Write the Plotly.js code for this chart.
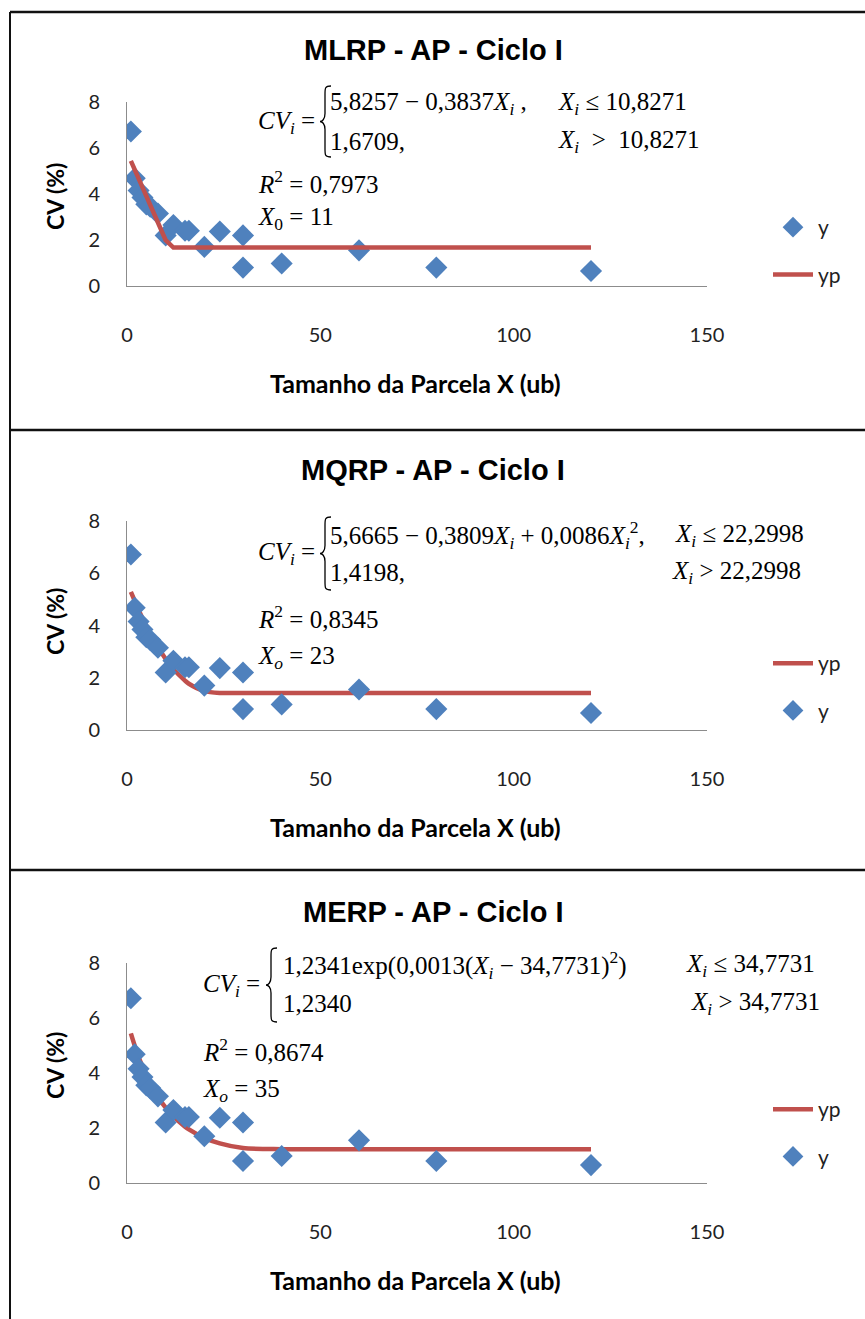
<!DOCTYPE html>
<html>
<head>
<meta charset="utf-8">
<script src="https://cdn.plot.ly/plotly-3.0.1.min.js"></script>
<style>
html,body{margin:0;padding:0;background:#fff;}
#chart{width:865px;height:1319px;}
</style>
</head>
<body>
<div id="chart"></div>
<script>
// ---- data ----
const panelTitles = ["MLRP - AP - Ciclo I", "MQRP - AP - Ciclo I", "MERP - AP - Ciclo I"];
const xSize = [1, 2, 3, 4, 5, 6, 8, 10, 12, 15, 16, 20, 24, 30, 30, 40, 60, 80, 120];
const cvObs = [6.72, 4.68, 4.15, 3.85, 3.55, 3.45, 3.15, 2.2, 2.65, 2.4, 2.4, 1.7, 2.37, 2.2, 0.8, 0.98, 1.55, 0.8, 0.65];
const xFit = [1, 2, 3, 4, 5, 6, 8, 10, 12, 15, 16, 20, 24, 30, 40, 60, 80, 120];
const ypLinear = [5.44, 5.06, 4.68, 4.29, 3.91, 3.52, 2.76, 1.99, 1.67, 1.67, 1.67, 1.67, 1.67, 1.67, 1.67, 1.67, 1.67, 1.67];
const ypQuad = [5.29, 4.94, 4.60, 4.28, 3.98, 3.69, 3.17, 2.72, 2.33, 1.89, 1.77, 1.49, 1.42, 1.42, 1.42, 1.42, 1.42, 1.42];
const ypExp = [5.44, 4.99, 4.58, 4.23, 3.91, 3.62, 3.13, 2.74, 2.42, 2.05, 1.95, 1.64, 1.44, 1.27, 1.23, 1.23, 1.23, 1.23];
const xTicks = [0, 50, 100, 150];
const yTicks = [0, 2, 4, 6, 8];
const xAxisTitle = "Tamanho da Parcela X (ub)";
const yAxisTitle = "CV (%)";

// ---- helpers (pixel -> paper) ----
const W = 865, H = 1319;
const PX = p => p / W;
const PY = p => 1 - p / H;

const BLUE = "#4F81BD", RED = "#C0504D";
const tickFont = {family: "Lato, 'Open Sans', sans-serif", size: 20, color: "#222"};
const eqFont = {family: "'Liberation Serif', 'Times New Roman', serif", size: 25, color: "#000"};

// panel geometry in pixels
const panels = [
  {top: 102, bottom: 286, title: 50, ytitle: 197, xtitle: 383, legendTop: 207, fit: ypLinear, shape: "linear", order: ["y", "yp"]},
  {top: 521, bottom: 730, title: 470, ytitle: 622, xtitle: 827, legendTop: 643, fit: ypQuad, shape: "spline", order: ["yp", "y"]},
  {top: 963, bottom: 1183, title: 912, ytitle: 1066, xtitle: 1280, legendTop: 1089, fit: ypExp, shape: "spline", order: ["yp", "y"]}
];

const traces = [];
const layout = {
  width: W, height: H,
  margin: {l: 0, r: 0, t: 0, b: 0},
  paper_bgcolor: "#fff", plot_bgcolor: "#fff",
  showlegend: true,
  annotations: [], shapes: []
};

panels.forEach((p, i) => {
  const n = i === 0 ? "" : String(i + 1);
  const xa = "x" + n, ya = "y" + n;
  const legName = "legend" + n;
  const scatterTrace = {
    x: xSize, y: cvObs, type: "scatter", mode: "markers", name: "y",
    xaxis: xa, yaxis: ya, legend: legName, legendgroup: "y" + i,
    marker: {symbol: "diamond", size: 17, color: BLUE}
  };
  const fitTrace = {
    x: xFit, y: p.fit, type: "scatter", mode: "lines", name: "yp",
    xaxis: xa, yaxis: ya, legend: legName, legendgroup: "yp" + i,
    line: {color: RED, width: 4.5, shape: p.shape, smoothing: 0.8}
  };
  if (p.order[0] === "y") { traces.push(scatterTrace, fitTrace); }
  else { traces.push(fitTrace, scatterTrace); }

  layout["xaxis" + n] = {
    domain: [PX(127), PX(707)], anchor: ya, range: [0, 150],
    tickvals: xTicks, ticks: "", showgrid: false, zeroline: false,
    showline: true, linecolor: "#8c8c8c", linewidth: 1,
    tickfont: tickFont, ticklabelstandoff: 31, fixedrange: true
  };
  layout["yaxis" + n] = {
    domain: [PY(p.bottom), PY(p.top)], anchor: xa, range: [0, 8],
    tickvals: yTicks, ticks: "", showgrid: false, zeroline: false,
    showline: true, linecolor: "#8c8c8c", linewidth: 1,
    tickfont: tickFont, ticklabelstandoff: 22, fixedrange: true
  };
  layout[legName] = {
    x: PX(768), y: PY(p.legendTop), xanchor: "left", yanchor: "top",
    bgcolor: "rgba(0,0,0,0)", font: {family: "Lato, sans-serif", size: 21, color: "#222"},
    tracegroupgap: 17, itemwidth: 40
  };
  // panel title
  layout.annotations.push({
    text: "<b>" + panelTitles[i] + "</b>", xref: "paper", yref: "paper",
    x: PX(433), y: PY(p.title), xanchor: "center", yanchor: "middle", showarrow: false,
    font: {family: "'Liberation Sans', Arial, sans-serif", size: 29, color: "#000"}
  });
  // axis titles
  layout.annotations.push({
    text: "<b>" + xAxisTitle + "</b>", xref: "paper", yref: "paper",
    x: PX(415), y: PY(p.xtitle), xanchor: "center", yanchor: "middle", showarrow: false,
    font: {family: "Lato, sans-serif", size: 25, color: "#000"}
  });
  layout.annotations.push({
    text: "<b>" + yAxisTitle + "</b>", xref: "paper", yref: "paper", textangle: -90,
    x: PX(55), y: PY(p.ytitle), xanchor: "center", yanchor: "middle", showarrow: false,
    font: {family: "Lato, sans-serif", size: 23, color: "#000"}
  });
});

// ---- equations ----
const Xi = "<i>X</i><sub><i>i</i></sub>";
function eq(text, px, py) {
  layout.annotations.push({text: text, xref: "paper", yref: "paper", x: PX(px), y: PY(py),
    xanchor: "left", yanchor: "middle", showarrow: false, font: eqFont});
}
function brace(xl, yt, yb) {
  const xm = xl + 5, xr = xl + 11, ym = (yt + yb) / 2;
  const pts = (x, y) => PX(x) + "," + PY(y);
  const path = "M" + pts(xr, yt) + " C" + pts(xm, yt) + " " + pts(xm, yt + 2) + " " + pts(xm, yt + 8) +
    " L" + pts(xm, ym - 8) + " C" + pts(xm, ym - 2) + " " + pts(xl + 2, ym) + " " + pts(xl, ym) +
    " C" + pts(xl + 2, ym) + " " + pts(xm, ym + 2) + " " + pts(xm, ym + 8) +
    " L" + pts(xm, yb - 8) + " C" + pts(xm, yb - 2) + " " + pts(xm, yb) + " " + pts(xr, yb);
  layout.shapes.push({type: "path", xref: "paper", yref: "paper", path: path,
    line: {color: "#000", width: 1.3}});
}
// panel 1
eq("<i>CV</i><sub><i>i</i></sub> =", 256, 122);
brace(320, 86, 157);
eq("5,8257 − 0,3837" + Xi + " ,", 328, 104);
eq(Xi + " ≤ 10,8271", 556, 104);
eq("1,6709,", 328, 141);
eq(Xi + "  &gt;  10,8271", 556, 141);
eq("<i>R</i><sup>2</sup> = 0,7973", 256, 182);
eq("<i>X</i><sub>0</sub> = 11", 256, 219);
// panel 2
eq("<i>CV</i><sub><i>i</i></sub> =", 256, 553);
brace(320, 517, 590);
eq("5,6665 − 0,3809" + Xi + " + 0,0086" + Xi + "<sup>2</sup>,", 328, 535);
eq(Xi + " ≤ 22,2998", 673, 535);
eq("1,4198,", 328, 573);
eq(Xi + " &gt; 22,2998", 670, 573);
eq("<i>R</i><sup>2</sup> = 0,8345", 256, 617);
eq("<i>X</i><sub><i>o</i></sub> = 23", 256, 657);
// panel 3
eq("<i>CV</i><sub><i>i</i></sub> =", 201, 985);
brace(266, 948, 1022);
eq("1,2341exp(0,0013(" + Xi + " − 34,7731)<sup>2</sup>)", 281, 965);
eq(Xi + " ≤ 34,7731", 684, 965);
eq("1,2340", 281, 1003);
eq(Xi + " &gt; 34,7731", 689, 1003);
eq("<i>R</i><sup>2</sup> = 0,8674", 201, 1050);
eq("<i>X</i><sub><i>o</i></sub> = 35", 201, 1090);

// ---- panel borders ----
const border = {color: "#111", width: 2.5};
[12, 430, 870].forEach(yy => layout.shapes.push({type: "line", xref: "paper", yref: "paper",
  x0: PX(10), x1: 1, y0: PY(yy), y1: PY(yy), line: border}));
layout.shapes.push({type: "line", xref: "paper", yref: "paper",
  x0: PX(10), x1: PX(10), y0: PY(12), y1: 0, line: {color: "#111", width: 2}});

Plotly.newPlot("chart", traces, layout, {staticPlot: true, displayModeBar: false});
</script>
</body>
</html>
